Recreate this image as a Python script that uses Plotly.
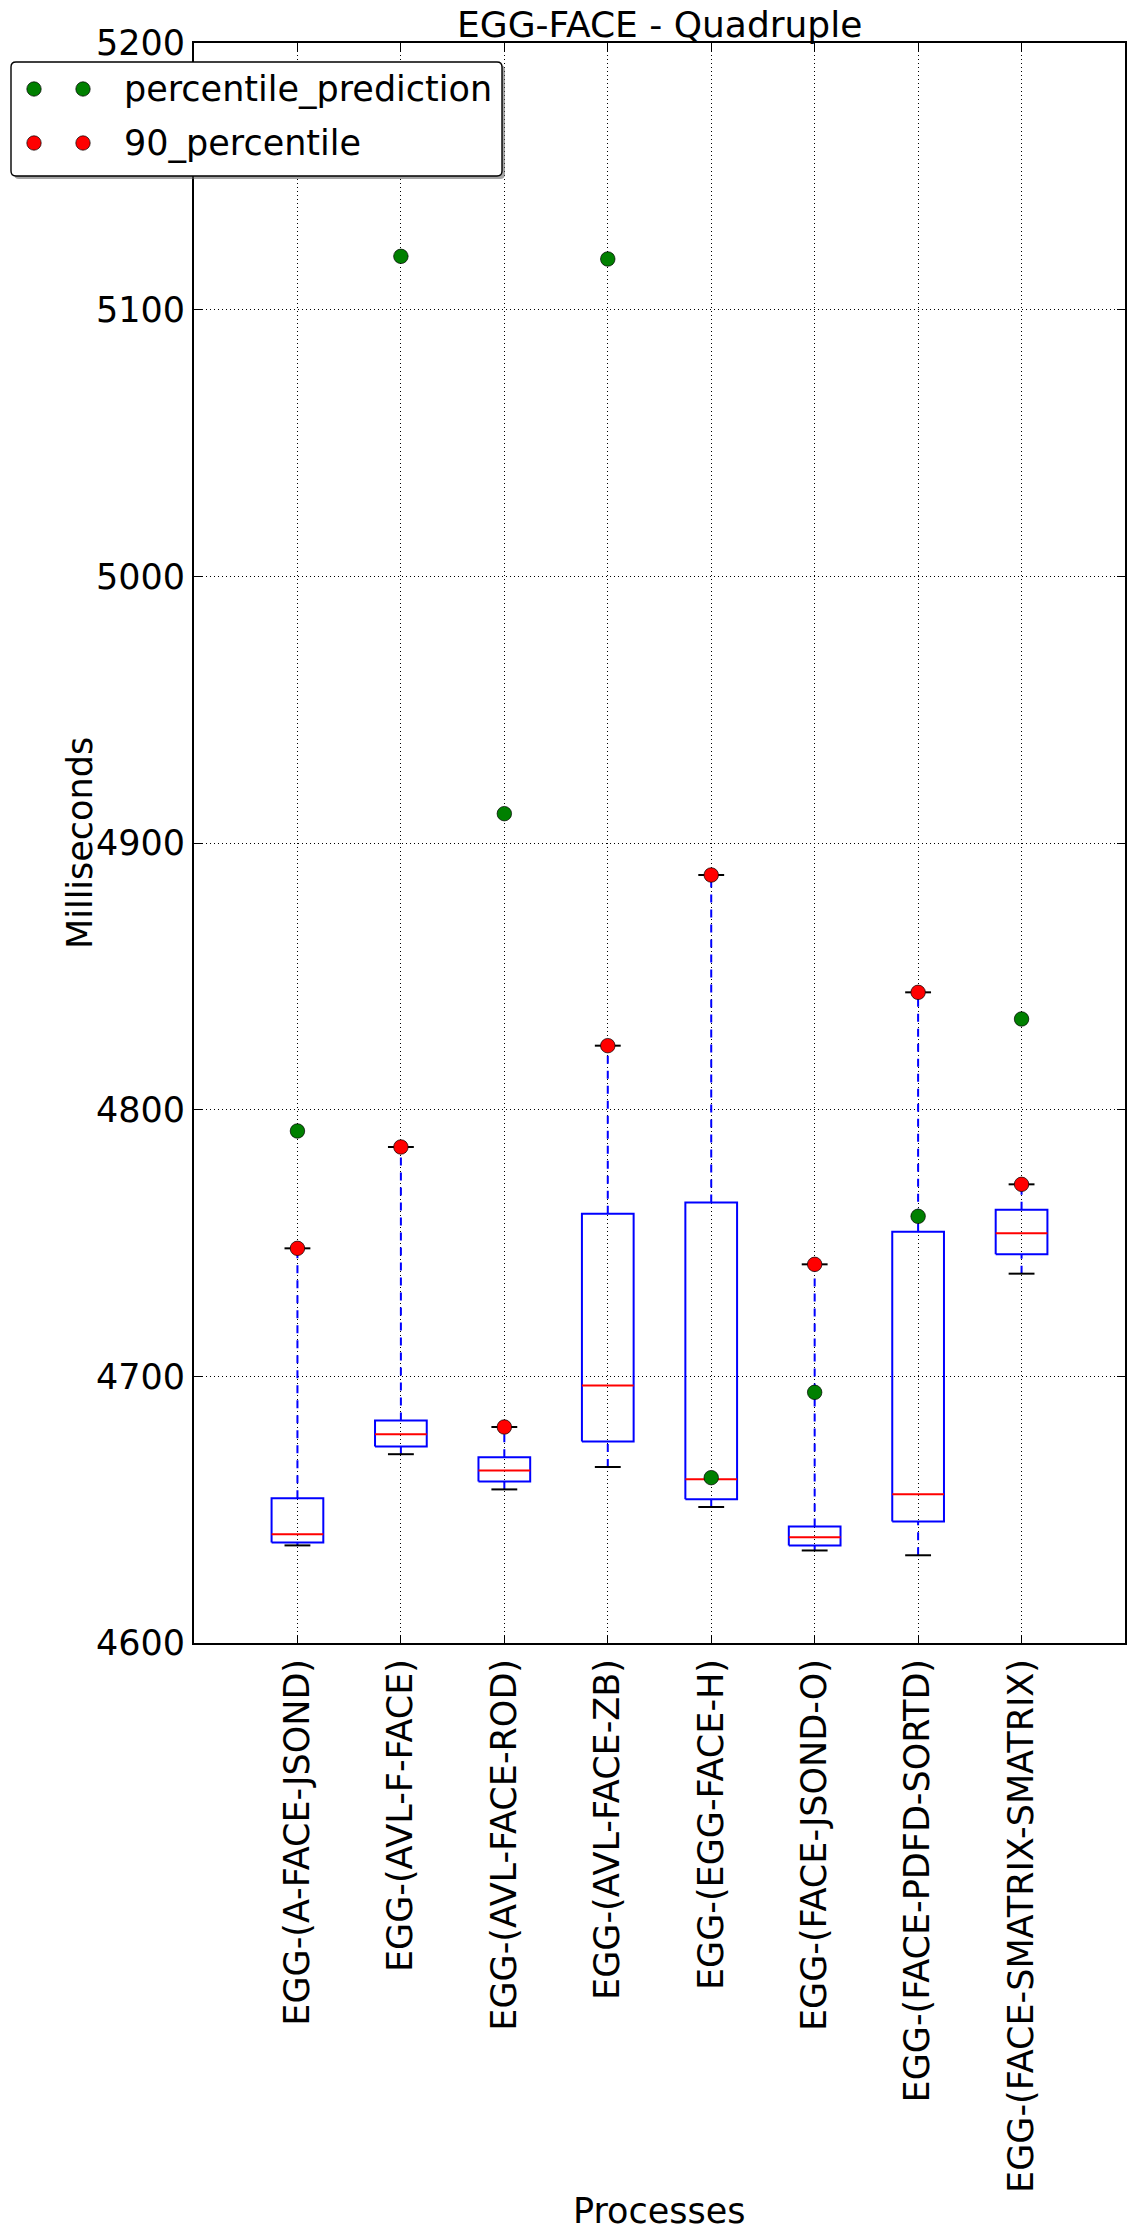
import plotly.graph_objects as go

# ---------------- data ----------------
categories = ["EGG-(A-FACE-JSOND)", "EGG-(AVL-F-FACE)", "EGG-(AVL-FACE-ROD)",
              "EGG-(AVL-FACE-ZB)", "EGG-(EGG-FACE-H)", "EGG-(FACE-JSOND-O)",
              "EGG-(FACE-PDFD-SORTD)", "EGG-(FACE-SMATRIX-SMATRIX)"]
whisker_low = [4636.6, 4670.8, 4657.6, 4666.0, 4651.0, 4634.7, 4632.9, 4738.5]
q1 = [4637.7, 4673.7, 4660.6, 4675.6, 4653.9, 4636.6, 4645.6, 4745.8]
median = [4640.8, 4678.3, 4664.7, 4696.6, 4661.4, 4639.7, 4655.8, 4753.7]
q3 = [4654.3, 4683.4, 4669.7, 4761.0, 4765.2, 4643.7, 4754.2, 4762.5]
whisker_high = [4748.0, 4786.0, 4681.0, 4824.0, 4888.0, 4742.0, 4844.0, 4772.0]
percentile_90 = [4748.0, 4786.0, 4681.0, 4824.0, 4888.0, 4742.0, 4844.0, 4772.0]
percentile_prediction = [4792.0, 5120.0, 4911.0, 5119.0, 4662.0, 4694.0, 4760.0, 4834.0]
y_ticks = [4600, 4700, 4800, 4900, 5000, 5100, 5200]

TITLE = "EGG-FACE - Quadruple"
X_LABEL = "Processes"
Y_LABEL = "Milliseconds"
LEGEND_NAMES = ["percentile_prediction", "90_percentile"]

# ---------------- layout constants ----------------
W, H = 1133, 2240
PL, PR, PT, PB = 194, 1125, 43, 1643
PW, PH = PR - PL, PB - PT
FONT = "DejaVu Sans"
FS = 35
BOX_HALF = 0.25
CAP_HALF = 0.125
LW = 2

def px2x(px):
    return (px - PL) / PW

def py2y(py):
    return (PB - py) / PH

positions = list(range(1, len(categories) + 1))

# build line coordinate lists from the data
box_x, box_y, med_x, med_y, wh_x, wh_y, cap_x, cap_y = [], [], [], [], [], [], [], []
for p, lo, a, m, b, hi in zip(positions, whisker_low, q1, median, q3, whisker_high):
    box_x += [p - BOX_HALF, p + BOX_HALF, p + BOX_HALF, p - BOX_HALF, p - BOX_HALF, None]
    box_y += [a, a, b, b, a, None]
    med_x += [p - BOX_HALF, p + BOX_HALF, None]
    med_y += [m, m, None]
    wh_x += [p, p, None, p, p, None]
    wh_y += [b, hi, None, lo, a, None]
    cap_x += [p - CAP_HALF, p + CAP_HALF, None, p - CAP_HALF, p + CAP_HALF, None]
    cap_y += [hi, hi, None, lo, lo, None]

fig = go.Figure()
fig.add_trace(go.Scatter(x=wh_x, y=wh_y, mode="lines",
                         line=dict(color="#0000ff", width=LW, dash="8px,7px"),
                         showlegend=False, hoverinfo="skip"))
fig.add_trace(go.Scatter(x=cap_x, y=cap_y, mode="lines",
                         line=dict(color="black", width=LW),
                         showlegend=False, hoverinfo="skip"))
fig.add_trace(go.Scatter(x=box_x, y=box_y, mode="lines",
                         line=dict(color="#0000ff", width=LW),
                         showlegend=False, hoverinfo="skip"))
fig.add_trace(go.Scatter(x=med_x, y=med_y, mode="lines",
                         line=dict(color="#ff0000", width=LW),
                         showlegend=False, hoverinfo="skip"))
fig.add_trace(go.Scatter(x=positions, y=percentile_prediction, mode="markers",
                         name=LEGEND_NAMES[0],
                         marker=dict(color="#008000", size=14.5,
                                     line=dict(color="black", width=0.7)),
                         showlegend=False))
fig.add_trace(go.Scatter(x=positions, y=percentile_90, mode="markers",
                         name=LEGEND_NAMES[1],
                         marker=dict(color="#ff0000", size=14.5,
                                     line=dict(color="black", width=0.7)),
                         showlegend=False))

grid_dash = "1px,3px"
fig.update_xaxes(range=[0, len(categories) + 1], tickmode="array",
                 tickvals=positions, ticktext=categories, tickangle=-90,
                 ticks="inside", ticklen=8, tickwidth=1, tickcolor="black",
                 showline=True, linecolor="black", linewidth=2, mirror="allticks",
                 showgrid=True, gridcolor="black", gridwidth=1, griddash=grid_dash,
                 zeroline=False, automargin=False,
                 tickfont=dict(family=FONT, size=FS, color="black"))
fig.update_yaxes(range=[y_ticks[0], y_ticks[-1]], tickmode="array", tickvals=y_ticks,
                 ticktext=[str(v) for v in y_ticks],
                 ticks="inside", ticklen=8, tickwidth=1, tickcolor="black",
                 showline=True, linecolor="black", linewidth=2, mirror="allticks",
                 showgrid=True, gridcolor="black", gridwidth=1, griddash=grid_dash,
                 zeroline=False, automargin=False,
                 tickfont=dict(family=FONT, size=FS, color="black"))

annotations = [
    dict(text=TITLE, x=0.5, y=1, xref="paper", yref="paper", xanchor="center",
         yanchor="bottom", yshift=-4, showarrow=False,
         font=dict(family=FONT, size=36, color="black")),
    dict(text=X_LABEL, x=0.5, y=py2y(2211), xref="paper", yref="paper",
         xanchor="center", yanchor="middle", showarrow=False,
         font=dict(family=FONT, size=FS, color="black")),
    dict(text=Y_LABEL, x=px2x(80), y=0.5, xref="paper", yref="paper",
         xanchor="center", yanchor="middle", textangle=-90, showarrow=False,
         font=dict(family=FONT, size=FS, color="black")),
]

# ---------------- custom legend (two markers per entry) ----------------
shapes = []
def rounded_rect(x0, y0, x1, y1, r):
    X = px2x; Y = py2y
    return (f"M {X(x0 + r)},{Y(y0)} L {X(x1 - r)},{Y(y0)} "
            f"Q {X(x1)},{Y(y0)} {X(x1)},{Y(y0 + r)} "
            f"L {X(x1)},{Y(y1 - r)} Q {X(x1)},{Y(y1)} {X(x1 - r)},{Y(y1)} "
            f"L {X(x0 + r)},{Y(y1)} Q {X(x0)},{Y(y1)} {X(x0)},{Y(y1 - r)} "
            f"L {X(x0)},{Y(y0 + r)} Q {X(x0)},{Y(y0)} {X(x0 + r)},{Y(y0)} Z")

LX0, LY0, LX1, LY1 = 11, 62, 502, 176
shapes.append(dict(type="path", xref="paper", yref="paper",
                   path=rounded_rect(LX0 + 3, LY0 + 3, LX1 + 3, LY1 + 3, 5),
                   fillcolor="rgba(90,90,90,0.55)", line=dict(width=0), layer="above"))
shapes.append(dict(type="path", xref="paper", yref="paper",
                   path=rounded_rect(LX0, LY0, LX1, LY1, 5),
                   fillcolor="white", line=dict(color="black", width=1.4), layer="above"))
legend_colors = ["#008000", "#ff0000"]
row_y = [89, 143]
for name, col, ry in zip(LEGEND_NAMES, legend_colors, row_y):
    for mx in (34, 83):
        shapes.append(dict(type="circle", xref="paper", yref="paper",
                           xsizemode="pixel", ysizemode="pixel",
                           xanchor=px2x(mx), yanchor=py2y(ry),
                           x0=-7.2, x1=7.2, y0=-7.2, y1=7.2,
                           fillcolor=col, line=dict(color="black", width=0.7),
                           layer="above"))
    annotations.append(dict(text=name, x=px2x(122), y=py2y(ry), xref="paper",
                            yref="paper", xanchor="left", yanchor="middle",
                            showarrow=False,
                            font=dict(family=FONT, size=FS, color="black")))

fig.update_layout(width=W, height=H, autosize=False,
                  margin=dict(l=PL, r=W - PR, t=PT, b=H - PB, pad=0),
                  paper_bgcolor="white", plot_bgcolor="white",
                  font=dict(family=FONT, size=FS, color="black"),
                  shapes=shapes, annotations=annotations, showlegend=False)

fig.write_html("out.html")
